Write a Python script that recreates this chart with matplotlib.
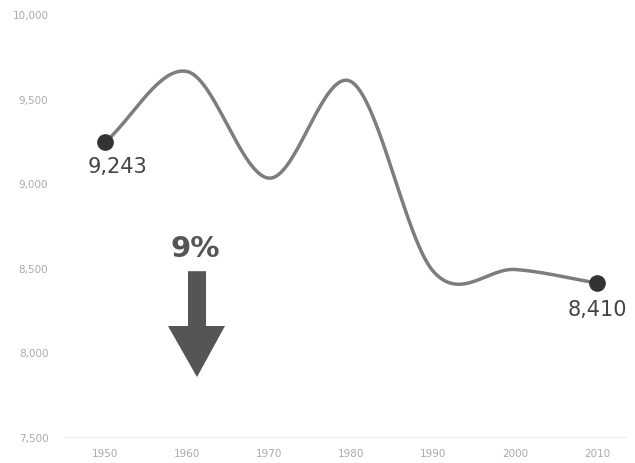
import numpy as np
import matplotlib.pyplot as plt
from matplotlib.patches import Polygon

years = [1950, 1960, 1970, 1980, 1990, 2000, 2010]
values = [9243, 9660, 9030, 9600, 8480, 8490, 8410]
y_ticks = [7500, 8000, 8500, 9000, 9500, 10000]
y_labels = ['7,500', '8,000', '8,500', '9,000', '9,500', '10,000']
change_label = '9%'


def catmull_rom(x, y, steps=60):
    # cardinal spline (tension 0) through the points, hermite form
    x = np.asarray(x, float)
    y = np.asarray(y, float)
    n = len(x)
    m = np.zeros(n)
    m[0] = (y[1] - y[0]) / (x[1] - x[0])
    m[-1] = (y[-1] - y[-2]) / (x[-1] - x[-2])
    m[1:-1] = (y[2:] - y[:-2]) / (x[2:] - x[:-2])
    xs, ys = [], []
    for i in range(n - 1):
        h = x[i + 1] - x[i]
        t = np.linspace(0, 1, steps, endpoint=(i == n - 2))
        h00 = 2 * t**3 - 3 * t**2 + 1
        h10 = t**3 - 2 * t**2 + t
        h01 = -2 * t**3 + 3 * t**2
        h11 = t**3 - t**2
        xs.append(x[i] + t * h)
        ys.append(h00 * y[i] + h10 * h * m[i] + h01 * y[i + 1] + h11 * h * m[i + 1])
    return np.concatenate(xs), np.concatenate(ys)


fig = plt.figure(figsize=(6.35, 4.64), dpi=100)
ax = fig.add_axes([65 / 635, 26 / 464, 560 / 635, 423 / 464])

cx, cy = catmull_rom(years, values)
ax.plot(cx, cy, color='#7d7d7d', linewidth=2.5, solid_capstyle='round', zorder=2)

# end points
ax.plot([years[0], years[-1]], [values[0], values[-1]], 'o', color='#333333',
        markersize=11, zorder=3)
ax.annotate(f'{values[0]:,}', (years[0], values[0]), xytext=(9, -17.5),
            textcoords='offset points', ha='center', va='center',
            fontsize=15, color='#444444')
ax.annotate(f'{values[-1]:,}', (years[-1], values[-1]), xytext=(0, -19),
            textcoords='offset points', ha='center', va='center',
            fontsize=15, color='#444444')

# percentage drop with arrow
ax.text(0.232, 0.447, change_label, transform=ax.transAxes, ha='center',
        va='center', fontsize=21, fontweight='bold', color='#555555')
arrow = Polygon([(0.2196, 0.392), (0.2518, 0.392), (0.2518, 0.2624),
                 (0.2857, 0.2624), (0.2357, 0.1418), (0.1839, 0.2624),
                 (0.2196, 0.2624)], closed=True, transform=ax.transAxes,
                facecolor='#555555', edgecolor='none')
ax.add_patch(arrow)

ax.set_xlim(1945.1, 2013.4)
ax.set_ylim(7500, 10000)
ax.set_xticks(years)
ax.set_xticklabels([str(y) for y in years])
ax.set_yticks(y_ticks)
ax.set_yticklabels(y_labels)
ax.tick_params(length=0, labelsize=7.5, labelcolor='#aaaaaa')
ax.tick_params(axis='y', pad=12)
ax.tick_params(axis='x', pad=8)
for side in ['top', 'right', 'left']:
    ax.spines[side].set_visible(False)
ax.spines['bottom'].set_color('#eeeeee')
ax.spines['bottom'].set_linewidth(1)

fig.savefig('out.png', dpi=100)
